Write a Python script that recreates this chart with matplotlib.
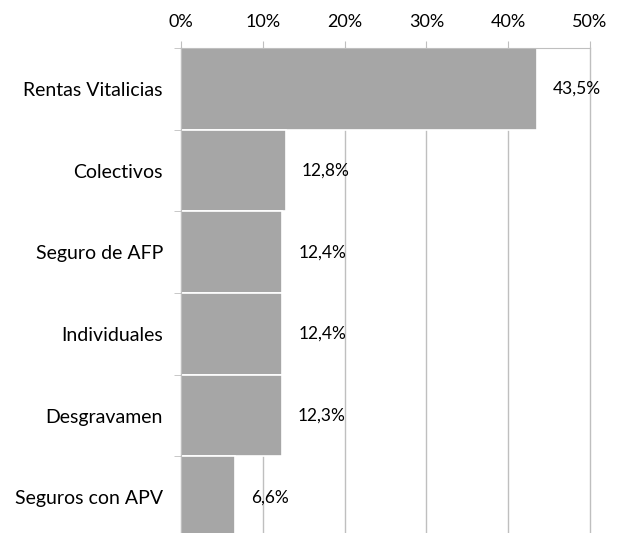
import matplotlib.pyplot as plt
import numpy as np

# data
categorias = ["Rentas Vitalicias", "Colectivos", "Seguro de AFP",
              "Individuales", "Desgravamen", "Seguros con APV"]
valores = [43.5, 12.8, 12.4, 12.4, 12.3, 6.6]
ticks_x = [0, 10, 20, 30, 40, 50]

plt.rcParams['font.family'] = ['Lato', 'DejaVu Sans']

fig = plt.figure(figsize=(6.18, 5.33), dpi=100)
# plot area: x 181..590 px, y 48..538 px (bottom is cut by the image)
ax = fig.add_axes([181 / 618, -5 / 533, 409 / 618, 490 / 533])

gris = "#A6A6A6"
linea = "#BFBFBF"
fs = 13

y = np.arange(len(categorias))
ax.barh(y, valores, height=1.0, color=gris, edgecolor="white", linewidth=1.2, zorder=2)

for yi, v in zip(y, valores):
    etiqueta = f"{v:.1f}%".replace(".", ",")
    ax.annotate(etiqueta, (v, yi), xytext=(11.5, 0), textcoords="offset points",
                va="center", ha="left", fontsize=12.5, color="black")

ax.set_xlim(0, 50)
ax.set_ylim(len(categorias) - 0.5, -0.5)

ax.set_xticks(ticks_x)
ax.set_xticklabels([f"{t}%" for t in ticks_x], fontsize=fs)
ax.xaxis.tick_top()
ax.tick_params(axis="x", length=5, color=linea, pad=8)
ax.grid(axis="x", color=linea, linewidth=1, zorder=0)
for g in ax.get_xgridlines():
    g.set_clip_on(False)

ax.set_yticks(y)
ax.set_yticklabels(categorias, fontsize=14)
ax.set_yticks(np.arange(len(categorias) + 1) - 0.5, minor=True)
ax.tick_params(axis="y", which="major", length=0, pad=13)
ax.tick_params(axis="y", which="minor", length=5, color=linea)

for lado in ["right", "bottom"]:
    ax.spines[lado].set_visible(False)
ax.spines["left"].set_color(linea)
ax.spines["top"].set_color(linea)

fig.savefig("out.png", dpi=100)
